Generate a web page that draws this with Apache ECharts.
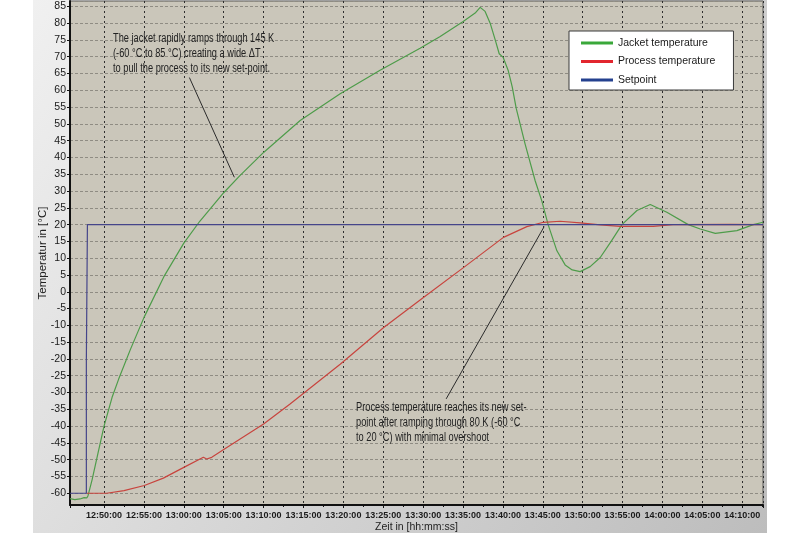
<!DOCTYPE html>
<html lang="en">
<head>
<meta charset="UTF-8">
<title>Jacket and process temperature</title>
<script src="https://cdn.jsdelivr.net/npm/echarts@6.0.0/dist/echarts.min.js"></script>
<style>
    html, body { margin: 0; width: 100%; height: 100%; background: #fff; }
    #chart { width: 800px; height: 533px; }
</style>
</head>
<body>
<div id="chart"></div>
<script>
// x range of the plot (hh:mm:ss)
var xStart = '12:45:44';
var xEnd = '14:12:36';

var seriesNames = ['Jacket temperature', 'Process temperature', 'Setpoint'];

var jacketTime = ['12:45:44', '12:46:20', '12:46:59', '12:47:30', '12:47:50', '12:47:59', '12:48:30', '12:49:15',
    '12:50:00', '12:51:00', '12:51:50', '12:53:20', '12:55:00', '12:57:30', '13:00:00', '13:02:00', '13:05:00',
    '13:07:00', '13:10:00', '13:14:35', '13:19:36', '13:24:36', '13:29:37', '13:32:08', '13:35:01', '13:36:31',
    '13:37:09', '13:37:46', '13:38:24', '13:39:02', '13:39:32', '13:40:02', '13:40:39', '13:41:10', '13:41:40',
    '13:42:47', '13:44:03', '13:44:53', '13:45:40', '13:46:46', '13:47:48', '13:48:41', '13:49:41', '13:50:56',
    '13:52:12', '13:53:34', '13:54:55', '13:56:48', '13:58:28', '14:00:33', '14:03:14', '14:04:44', '14:06:37',
    '14:09:20', '14:11:23', '14:12:36'];
var jacketTemp = [-61.6, -61.9, -61.7, -61.3, -61.4, -60.8, -56, -48,
    -40, -31.5, -26, -17, -7.7, 4.5, 14.5, 21, 29.5,
    34.5, 41.5, 51, 59, 66, 72.5, 76, 80.5, 83,
    84.7, 83.5, 80, 75, 70.9, 69.8, 66, 61, 54.6,
    44, 33, 27, 20, 12.2, 8, 6.5, 6, 7.5,
    10.2, 15, 20, 24.2, 26, 23.7, 20, 18.7, 17.4,
    18.2, 20, 20.7];

var processTime = ['12:47:50', '12:50:20', '12:52:30', '12:55:03', '12:57:26', '13:00:00', '13:02:27', '13:02:52',
    '13:03:30', '13:05:00', '13:10:00', '13:13:19', '13:19:36', '13:25:01', '13:30:02', '13:35:03', '13:40:04',
    '13:43:00', '13:45:05', '13:47:10', '13:49:41', '13:52:12', '13:54:42', '13:58:50', '14:01:20', '14:08:29',
    '14:12:36'];
var processTemp = [-60, -60, -59.2, -57.7, -55.5, -52.3, -49.3, -49.8,
    -49.3, -47, -39.4, -33.4, -21.6, -10.7, -1.7, 7.2, 16.2,
    19.4, 20.7, 21.0, 20.5, 19.9, 19.5, 19.5, 20.0, 20.1,
    20.0];

var setpointTime = ['12:45:44', '12:47:47', '12:47:47', '12:47:55', '12:47:55', '14:12:36'];
var setpointTemp = [-60, -60, -20, -20, 20, 20];

// leader lines of the two notes: [time, temperature]
var noteJacketFrom = ['13:00:42', 63.8];
var noteJacketTo = ['13:06:20', 34.1];
var noteProcessFrom = ['13:32:53', -31.9];
var noteProcessTo = ['13:45:10', 19.4];

var noteJacket = 'The jacket rapidly ramps through 145 K\n(-60 °C to 85 °C) creating a wide \u0394T\nto pull the process to its new set-point.';
var noteProcess = 'Process temperature reaches its new set-\npoint after ramping through 80 K (-60 °C\nto 20 °C) with minimal overshoot';

var FONT = '"Liberation Sans", Arial, sans-serif';

function toMin(s) {
    var p = s.split(':');
    return +p[0] * 60 + +p[1] + (+p[2] || 0) / 60;
}
function pad(n) { return (n < 10 ? '0' : '') + n; }
function fmtTime(v) {
    var tot = Math.round(v * 60);
    return pad(Math.floor(tot / 3600)) + ':' + pad(Math.floor(tot % 3600 / 60)) + ':' + pad(tot % 60);
}
function pairs(t, v) {
    return t.map(function (s, i) { return [toMin(s), v[i]]; });
}
function pt(p) { return [toMin(p[0]), p[1]]; }

var chart = echarts.init(document.getElementById('chart'));

var option = {
    animation: false,
    backgroundColor: '#fff',
    graphic: [
        {
            type: 'rect', z: -10, silent: true,
            shape: { x: 33, y: 0, width: 734, height: 533 },
            style: {
                fill: new echarts.graphic.LinearGradient(0, 0, 1, 1, [
                    { offset: 0, color: '#f0f0f0' },
                    { offset: 1, color: '#bdbdbd' }
                ])
            }
        },
        {
            // the notes are set in a narrow face, so squeeze the text a little
            type: 'text', z: 100, x: 113, y: 31, scaleX: 0.77,
            style: { text: noteJacket, font: '12px ' + FONT, lineHeight: 15, fill: '#222' }
        },
        {
            type: 'text', z: 100, x: 356, y: 400, scaleX: 0.77,
            style: { text: noteProcess, font: '12px ' + FONT, lineHeight: 15, fill: '#222' }
        }
    ],
    grid: {
        left: 70, right: 37, top: 1, bottom: 28, outerBoundsMode: 'none',
        show: true, backgroundColor: '#cac6ba', borderColor: '#5a5a5a', borderWidth: 1
    },
    legend: {
        orient: 'vertical', left: 569, top: 31,
        backgroundColor: '#fff', borderColor: '#3a3a3a', borderWidth: 1,
        padding: [5, 18, 3, 12], itemGap: 4.5,
        itemWidth: 32, itemHeight: 3, icon: 'rect',
        textStyle: { fontFamily: FONT, fontSize: 10.5, color: '#1a1a1a', lineHeight: 14 },
        data: [
            { name: seriesNames[0], itemStyle: { color: '#3aa83a' } },
            { name: seriesNames[1], itemStyle: { color: '#e2262e' } },
            { name: seriesNames[2], itemStyle: { color: '#24418f' } }
        ]
    },
    xAxis: {
        type: 'value',
        min: toMin(xStart), max: toMin(xEnd),
        minInterval: 5, maxInterval: 5, splitNumber: 17,
        name: 'Zeit in [hh:mm:ss]', nameLocation: 'middle', nameGap: 17, nameMoveOverlap: false,
        nameTextStyle: { fontFamily: FONT, fontSize: 10.5, color: '#222' },
        axisLine: { onZero: false, lineStyle: { color: '#111', width: 2 } },
        axisTick: { length: 3, lineStyle: { color: '#111' } },
        minorTick: { show: true, splitNumber: 2, length: 2, lineStyle: { color: '#111' } },
        axisLabel: {
            formatter: fmtTime, fontFamily: FONT, fontSize: 9, fontWeight: 'bold',
            color: '#1a1a1a', margin: 6, showMinLabel: false, showMaxLabel: false
        },
        splitLine: { show: true, lineStyle: { color: '#2e2e2e', type: [2, 3], width: 1 } }
    },
    yAxis: {
        type: 'value',
        min: -63.5, max: 86.6,
        minInterval: 5, maxInterval: 5, splitNumber: 30,
        name: 'Temperatur in [°C]', nameLocation: 'middle', nameGap: 21, nameMoveOverlap: false,
        nameTextStyle: { fontFamily: FONT, fontSize: 11.5, color: '#222' },
        axisLine: { onZero: false, lineStyle: { color: '#111', width: 2 } },
        axisTick: { length: 3, lineStyle: { color: '#111' } },
        axisLabel: {
            fontFamily: FONT, fontSize: 10.5, color: '#1a1a1a', margin: 4,
            showMinLabel: false, showMaxLabel: false
        },
        splitLine: { show: true, lineStyle: { color: '#8f8c83', type: [3, 2], width: 1 } }
    },
    series: [
        {
            name: seriesNames[0], type: 'line', symbol: 'none', z: 3,
            data: pairs(jacketTime, jacketTemp),
            lineStyle: { color: '#4e9c4a', width: 1.2 },
            itemStyle: { color: '#3aa83a' },
            markLine: {
                silent: true, symbol: ['none', 'none'], label: { show: false },
                lineStyle: { color: '#2b2b2b', width: 1, type: 'solid' },
                data: [
                    [{ coord: pt(noteJacketFrom) }, { coord: pt(noteJacketTo) }],
                    [{ coord: pt(noteProcessFrom) }, { coord: pt(noteProcessTo) }]
                ]
            }
        },
        {
            name: seriesNames[1], type: 'line', symbol: 'none', z: 3,
            data: pairs(processTime, processTemp),
            lineStyle: { color: '#c8443e', width: 1.2 },
            itemStyle: { color: '#e2262e' }
        },
        {
            name: seriesNames[2], type: 'line', symbol: 'none', z: 4,
            data: pairs(setpointTime, setpointTemp),
            lineStyle: { color: '#45458a', width: 1.2 },
            itemStyle: { color: '#24418f' }
        }
    ]
};
chart.setOption(option);
</script>
</body>
</html>
